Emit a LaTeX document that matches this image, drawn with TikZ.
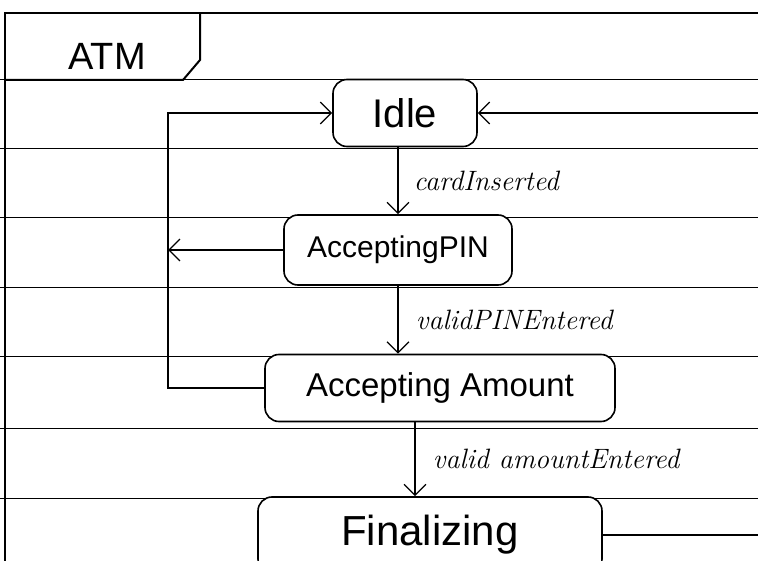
\documentclass[tikz,border=0pt]{standalone}
\usepackage{fontspec}
\newfontfamily\statefont{Liberation Sans}
\usetikzlibrary{arrows.meta}

\begin{document}
\begin{tikzpicture}[x=1pt, y=-1pt,
    state/.style={draw, line width=1.6pt, rounded corners=14pt, fill=white, inner sep=0pt, font=\statefont\fontsize{30}{36}\selectfont},
    trans/.style={line width=1.3pt, -{Straight Barb[length=11pt, width=22pt, line width=1.3pt]}},
    lbl/.style={font=\itshape\fontsize{28}{32}\selectfont}]
    \useasboundingbox (0,0) rectangle (758,561);

    % ruled lines of the page
    \foreach \y in {80,149,218,288,357,428,498}
        \draw[line width=1pt] (0,\y) -- (758,\y);

    % frame with its name tab
    \draw[line width=2pt] (5,561) -- (5,13) -- (758,13);
    \draw[line width=2pt] (5,80) -- (183,80) -- (200,60) -- (200,13);
    \node[font=\statefont\fontsize{38}{40}\selectfont] (atm) at (107,56) {ATM};

    \node[state, minimum width=144pt, minimum height=67pt, font=\statefont\fontsize{40}{44}\selectfont] (idle) at (405,113) {Idle};
    \node[state, minimum width=228pt, minimum height=70pt] (pin) at (398,250) {AcceptingPIN};
    \node[state, minimum width=350pt, minimum height=67pt, font=\statefont\fontsize{33}{38}\selectfont] (aa) at (440,388) {Accepting Amount};
    \node[state, minimum width=344pt, minimum height=76pt, font=\statefont\fontsize{42}{46}\selectfont] (fin) at (430,535) {Finalizing};

    \coordinate (loop) at (168,250);
    \coordinate (rin) at (758,113);
    \coordinate (rout) at (758,535);

    \draw[trans] (pin.north |- idle.south) -- (pin.north) node[lbl, midway, right=12pt] {cardInserted};
    \draw[trans] (pin.south) -- (pin.south |- aa.north) node[lbl, midway, right=14pt] {validPINEntered};
    \draw[trans] ([xshift=-15pt]fin.north |- aa.south) -- ([xshift=-15pt]fin.north) node[lbl, midway, right=14pt] {valid amountEntered};

    \draw[trans] (pin.west) -- (pin.west -| loop);
    \draw[trans] (aa.west) -| (loop) |- (idle.west);
    \draw[trans] (rin) -- (idle.east);
    \draw[line width=1.3pt] (fin.east) -- (rout);
\end{tikzpicture}
\end{document}
